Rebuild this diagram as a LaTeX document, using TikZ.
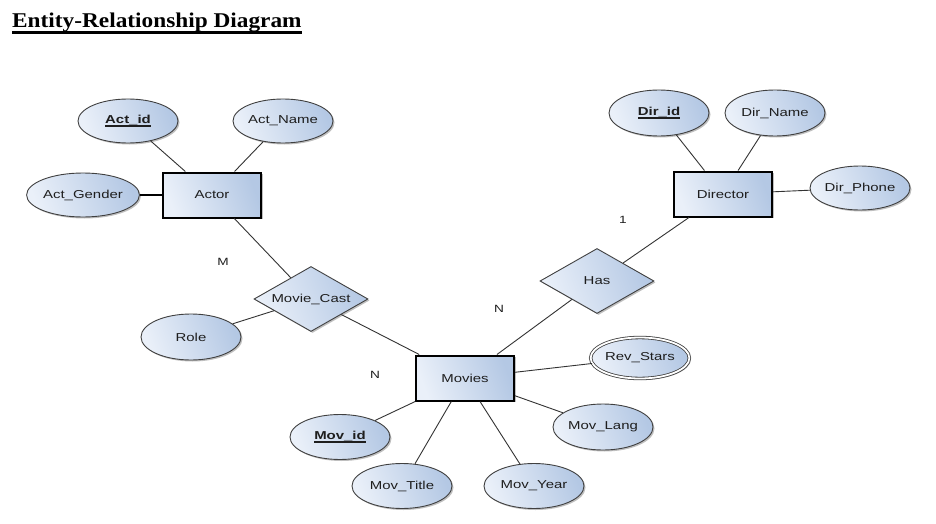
\documentclass[tikz,border=0pt]{standalone}
\usepackage{fontspec}
\setmainfont{Liberation Serif}
\newfontfamily\diafont[FakeStretch=1.3]{Liberation Sans}
\newfontfamily\titlefont[FakeStretch=1.11]{Liberation Serif}
\newcommand\keyul[1]{\setbox0\hbox{#1}\rlap{\rule[-2.9pt]{\wd0}{1.3pt}}\box0}
\usetikzlibrary{shapes.geometric,shadows}
\definecolor{fillA}{RGB}{234,240,249}
\definecolor{fillB}{RGB}{180,200,228}
\definecolor{txt}{RGB}{30,30,30}
\tikzset{
  shade/.style={left color=fillA, right color=fillB, shading angle=110},
  shad/.style={drop shadow={shadow xshift=1.5pt, shadow yshift=-1.5pt, opacity=0.25, fill=black}},
  dfont/.style={font=\diafont\fontsize{11.5}{13}\selectfont, text=txt},
  attr/.style={ellipse, draw=black!75, line width=0.9pt, shade, shad, dfont,
    minimum width=100pt, minimum height=44pt, inner sep=0pt},
  keyattr/.style={attr, font=\diafont\bfseries\fontsize{11.5}{13}\selectfont},
  multattr/.style={attr, double, double distance=1.8pt, line width=0.8pt,
    minimum width=93pt, minimum height=41pt},
  entity/.style={rectangle, draw=black, line width=2pt, shade, shad, dfont,
    minimum width=98pt, minimum height=45pt, inner sep=0pt},
  rel/.style={diamond, aspect=1.75, draw=black!75, line width=0.9pt, shade, shad, dfont,
    minimum width=114pt, minimum height=65pt, inner sep=0pt},
  conn/.style={draw=black!80, line width=0.9pt},
  card/.style={dfont, font=\diafont\fontsize{10.5}{12}\selectfont, inner sep=0pt},
}
\begin{document}
\begin{tikzpicture}[x=1pt, y=-1pt]
\useasboundingbox[fill=white] (0,0) rectangle (936,524);

% title
\node[anchor=base west, inner sep=0pt, font=\titlefont\bfseries\fontsize{21}{24}\selectfont] (title) at (12,28) {Entity-Relationship Diagram};
\draw[line width=2.6pt] ([yshift=-4.5pt]title.base west) -- ([yshift=-4.5pt]title.base east);

% entities
\node[entity] (actor) at (212,195) {Actor};
\node[entity] (director) at (723,194) {Director};
\node[entity] (movies) at (465,378) {Movies};

% relationships
\node[rel] (cast) at (311,299) {Movie\_Cast};
\node[rel] (has) at (597,281) {Has};

% attributes
\node[keyattr] (actid) at (128,121) {\keyul{Act\_id}};
\node[attr] (actname) at (283,121) {Act\_Name};
\node[attr] (actgender) at (83,195) {Act\_Gender};
\node[keyattr, minimum height=46pt] (dirid) at (659,113) {\keyul{Dir\_id}};
\node[attr, minimum height=46pt] (dirname) at (775,113) {Dir\_Name};
\node[attr] (dirphone) at (860,188) {Dir\_Phone};
\node[attr, minimum height=46pt] (role) at (191,337) {Role};
\node[multattr] (revstars) at (640,358) {Rev\_Stars};
\node[attr, minimum height=46pt] (movlang) at (603,427) {Mov\_Lang};
\node[keyattr, minimum height=45pt] (movid) at (340,437) {\keyul{Mov\_id}};
\node[attr, minimum height=45pt] (movtitle) at (402,486) {Mov\_Title};
\node[attr, minimum height=45pt] (movyear) at (534,486) {Mov\_Year};

% cardinalities
\node[card] (cm) at (223,262) {M};
\node[card] (cn1) at (375,375) {N};
\node[card] (cn2) at (499,309) {N};
\node[card] (c1) at (623,220) {1};

% connectors
\draw[conn] (actid) -- (actor);
\draw[conn] (actname) -- (actor);
\draw[draw=black, line width=2pt] (actgender) -- (actor);
\draw[conn] (actor) -- (cast);
\draw[conn] (role) -- (cast);
\draw[conn] (cast) -- (movies);
\draw[conn] (movies) -- (has);
\draw[conn] (has) -- (director);
\draw[conn] (dirid) -- (director);
\draw[conn] (dirname) -- (director);
\draw[conn] (director) -- (dirphone);
\draw[conn] (movies) -- (revstars);
\draw[conn] (movies) -- (movlang);
\draw[conn] (movies) -- (movyear);
\draw[conn] (movies) -- (movtitle);
\draw[conn] (movies) -- (movid);
\end{tikzpicture}
\end{document}
